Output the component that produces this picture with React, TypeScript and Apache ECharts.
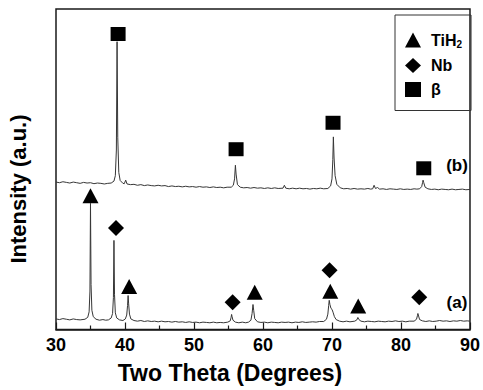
import React, { useEffect, useRef } from "react";
import * as echarts from "echarts";

// 2θ ticks
const xTicks = [30, 40, 50, 60, 70, 80, 90];

// Pattern (a) [2θ, intensity a.u.]
const patternA: number[][] = [
  [30, 3.3], [30.5, 3.1], [31, 3.4], [31.5, 3.2], [32, 3.0], [32.5, 3.3], [33, 3.1], [33.5, 3.0],
  [34.2, 3.2], [34.6, 3.8], [34.8, 5.5], [34.92, 12], [35, 39.4], [35.08, 14], [35.2, 6], [35.4, 4], [35.8, 3.2],
  [36.3, 2.9], [36.8, 3.1], [37.2, 2.9], [37.6, 3.0],
  [38.0, 3.6], [38.2, 5.0], [38.32, 10], [38.4, 27.8], [38.48, 11], [38.6, 5.2], [38.8, 3.6], [39.2, 3.0],
  [39.7, 2.8], [40.05, 3.3], [40.25, 4.5], [40.37, 7.5], [40.45, 10.6], [40.53, 8], [40.65, 4.8], [40.85, 3.3], [41.3, 2.8],
  [41.8, 2.6], [42.3, 2.8], [42.8, 2.5], [43.3, 2.7], [43.8, 2.5], [44.3, 2.6], [44.8, 2.4], [45.3, 2.6],
  [45.8, 2.4], [46.3, 2.5], [46.8, 2.3], [47.3, 2.5], [47.8, 2.3], [48.3, 2.4], [48.8, 2.2], [49.3, 2.4],
  [49.8, 2.2], [50.3, 2.3], [50.8, 2.1], [51.3, 2.3], [51.8, 2.2], [52.3, 2.1], [52.8, 2.3], [53.3, 2.1],
  [53.8, 2.2], [54.3, 2.1],
  [54.9, 2.3], [55.25, 2.7], [55.38, 3.8], [55.45, 4.7], [55.52, 4.0], [55.65, 2.9], [56.0, 2.3],
  [56.5, 2.1], [57.0, 2.3], [57.5, 2.1],
  [57.9, 2.3], [58.25, 2.9], [58.42, 5.0], [58.55, 7.8], [58.65, 6.0], [58.8, 3.4], [59.2, 2.4],
  [59.7, 2.2], [60.2, 2.3], [60.7, 2.1], [61.2, 2.3], [61.7, 2.2], [62.2, 2.1], [62.7, 2.3], [63.2, 2.2],
  [63.7, 2.3], [64.2, 2.1], [64.7, 2.3], [65.2, 2.2], [65.7, 2.4], [66.2, 2.2], [66.7, 2.3], [67.2, 2.4],
  [67.7, 2.3], [68.2, 2.5],
  [68.8, 2.5], [69.2, 3.2], [69.4, 4.8], [69.52, 7.5], [69.6, 9.1], [69.7, 7.8], [69.85, 6.6], [70.0, 6.3],
  [70.15, 5.4], [70.35, 4.0], [70.6, 3.1], [71.1, 2.6],
  [71.6, 2.4], [72.1, 2.6], [72.6, 2.4],
  [73.3, 2.6], [73.6, 3.0], [73.75, 3.75], [73.9, 3.1], [74.2, 2.6],
  [74.7, 2.4], [75.2, 2.6], [75.7, 2.5], [76.2, 2.4], [76.7, 2.6], [77.2, 2.5], [77.7, 2.4], [78.2, 2.6],
  [78.7, 2.5], [79.2, 2.7], [79.7, 2.5], [80.2, 2.6], [80.7, 2.4], [81.2, 2.6],
  [81.9, 2.6], [82.25, 3.2], [82.38, 4.3], [82.45, 5.0], [82.55, 4.2], [82.7, 3.1], [83.1, 2.7],
  [83.6, 2.5], [84.1, 2.7], [84.6, 2.5], [85.1, 2.6], [85.6, 2.8], [86.1, 2.6], [86.6, 2.7], [87.1, 2.5],
  [87.6, 2.7], [88.1, 2.6], [88.6, 2.8], [89.1, 2.6], [89.6, 2.7], [90, 2.6],
];

// Pattern (b) [2θ, intensity a.u.]
const patternB: number[][] = [
  [30, 46.0], [30.5, 45.8], [31, 46.1], [31.5, 45.9], [32, 45.7], [32.5, 46.0], [33, 45.8], [33.5, 45.6],
  [34, 45.9], [34.5, 45.7], [35, 45.8], [35.5, 45.5], [36, 45.7], [36.5, 45.6], [37, 45.4], [37.5, 45.6],
  [38.0, 45.7], [38.4, 46.3], [38.6, 48], [38.75, 56], [38.85, 89.8], [38.95, 60], [39.1, 49], [39.3, 46.5],
  [39.7, 45.6], [39.9, 45.5], [40.1, 46.6], [40.3, 45.4],
  [40.8, 45.2], [41.3, 45.3], [41.8, 45.0], [42.3, 45.2], [42.8, 44.9], [43.3, 45.1], [43.8, 44.9], [44.3, 44.8],
  [44.8, 45.0], [45.3, 44.8], [45.8, 44.9], [46.3, 44.6], [46.8, 44.8], [47.3, 44.6], [47.8, 44.7], [48.3, 44.5],
  [48.8, 44.7], [49.3, 44.5], [49.8, 44.6], [50.3, 44.4], [50.8, 44.6], [51.3, 44.4], [51.8, 44.5], [52.3, 44.3],
  [52.8, 44.5], [53.3, 44.3], [53.8, 44.4], [54.3, 44.2], [54.8, 44.4],
  [55.4, 44.4], [55.7, 45.0], [55.88, 47], [56.0, 51.25], [56.1, 48.5], [56.3, 45.2], [56.7, 44.4],
  [57.2, 44.2], [57.7, 44.3], [58.2, 44.1], [58.7, 44.3], [59.2, 44.1], [59.7, 44.2], [60.2, 44.0], [60.7, 44.2],
  [61.2, 44.0], [61.7, 44.2], [62.2, 44.0], [62.9, 44.1], [63.1, 45.0], [63.3, 44.1],
  [63.8, 43.9], [64.3, 44.1], [64.8, 43.9], [65.3, 44.1], [65.8, 43.9], [66.3, 44.0], [66.8, 43.8], [67.3, 44.0],
  [67.8, 43.9], [68.3, 44.1], [68.8, 43.9],
  [69.4, 44.0], [69.8, 44.8], [70.0, 47], [70.12, 53], [70.2, 60.1], [70.3, 53.5], [70.45, 48], [70.7, 45.3], [71.2, 44.2],
  [71.7, 43.9], [72.2, 44.0], [72.7, 43.8], [73.2, 44.0], [73.7, 43.8], [74.2, 43.9], [74.7, 43.8], [75.2, 44.0],
  [75.6, 43.8], [75.9, 43.9], [76.1, 45.0], [76.3, 44.0], [76.6, 44.3], [76.9, 43.8],
  [77.4, 43.9], [77.9, 43.7], [78.4, 43.9], [78.9, 43.8], [79.4, 43.7], [79.9, 43.9], [80.4, 43.7], [80.9, 43.8],
  [81.4, 43.7], [81.9, 43.9], [82.3, 43.8],
  [82.7, 43.9], [83.0, 44.6], [83.12, 45.8], [83.2, 46.6], [83.3, 45.8], [83.5, 44.4], [83.9, 43.9],
  [84.4, 43.7], [84.9, 43.8], [85.4, 43.6], [85.9, 43.8], [86.4, 43.7], [86.9, 43.6], [87.4, 43.8], [87.9, 43.6],
  [88.4, 43.7], [88.9, 43.8], [89.4, 43.6], [90, 43.7],
];

// Phase markers [2θ, marker height a.u.]
const tih2Marks: number[][] = [[35.0, 41.7], [40.6, 13.4], [58.8, 11.6], [69.75, 11.9], [73.8, 7.3]];
const nbMarks: number[][] = [[38.7, 31.7], [55.6, 8.5], [69.65, 18.5], [82.65, 10.1]];
const betaMarks: number[][] = [[39.0, 92.2], [56.1, 56.25], [70.15, 64.5], [83.3, 50.3]];

const phaseNames = ["TiH2", "Nb", "β"];
const sampleLabels = ["(b)", "(a)"];

const FONT = "'Liberation Sans', Arial, Helvetica, sans-serif";

export default function App() {
  const ref = useRef<HTMLDivElement>(null);
  useEffect(() => {
    if (!ref.current) return;
    const chart = echarts.init(ref.current, undefined, { renderer: "svg" });
    const lineStyle = { color: "#363636", width: 1 };
    const markStyle = { color: "#000", opacity: 1 };
    chart.setOption({
      animation: false,
      backgroundColor: "#ffffff",
      grid: {
        left: 56,
        right: 9,
        top: 9,
        bottom: 60.5,
        show: true,
        borderColor: "#1a1a1a",
        borderWidth: 1.5,
        backgroundColor: "transparent",
      },
      legend: {
        orient: "vertical",
        left: 395,
        top: 15,
        itemWidth: 16,
        itemHeight: 15,
        itemGap: 8,
        padding: [17, 9, 13, 10],
        borderColor: "#333",
        borderWidth: 1,
        selectedMode: false,
        data: [
          { name: phaseNames[0], icon: "triangle" },
          { name: phaseNames[1], icon: "diamond" },
          { name: phaseNames[2], icon: "rect" },
        ],
        formatter: (n: string) => (n === "TiH2" ? "{b|TiH}{s|2}" : "{b|" + n + "}"),
        textStyle: {
          padding: [0, 0, 0, 5],
          rich: {
            b: { fontSize: 16, fontWeight: "bold", fontFamily: FONT, color: "#000" },
            s: { fontSize: 10, fontWeight: "bold", fontFamily: FONT, color: "#000", verticalAlign: "bottom", padding: [9, 0, 0, 0] },
          },
        },
      },
      xAxis: {
        type: "value",
        min: xTicks[0],
        max: xTicks[xTicks.length - 1],
        interval: 10,
        axisLine: { show: true, lineStyle: { color: "#1a1a1a", width: 1.5 } },
        axisTick: { show: true, inside: true, length: 7, lineStyle: { color: "#1a1a1a", width: 1.2 } },
        minorTick: { show: true, splitNumber: 2, length: 4, lineStyle: { color: "#1a1a1a", width: 1.2 } },
        splitLine: { show: false },
        axisLabel: { fontSize: 18, fontWeight: "bold", fontFamily: FONT, color: "#000", margin: 6 },
      },
      yAxis: {
        type: "value",
        min: 0,
        max: 100,
        axisLine: { show: false },
        axisTick: { show: false },
        axisLabel: { show: false },
        splitLine: { show: false },
      },
      graphic: [
        {
          type: "text",
          x: 18,
          y: 189,
          rotation: Math.PI / 2,
          style: {
            text: "Intensity (a.u.)",
            font: "bold 22px " + FONT,
            fill: "#000",
            textAlign: "center",
            textVerticalAlign: "middle",
          },
        },
        {
          type: "text",
          x: 230,
          y: 373,
          style: {
            text: "Two Theta (Degrees)",
            font: "bold 23px " + FONT,
            fill: "#000",
            textAlign: "center",
            textVerticalAlign: "middle",
          },
        },
        {
          type: "text",
          x: 457,
          y: 165,
          style: { text: sampleLabels[0], font: "bold 17px " + FONT, fill: "#000", textAlign: "center", textVerticalAlign: "middle" },
        },
        {
          type: "text",
          x: 457,
          y: 302,
          style: { text: sampleLabels[1], font: "bold 17px " + FONT, fill: "#000", textAlign: "center", textVerticalAlign: "middle" },
        },
      ],
      series: [
        { type: "line", name: "(a)", data: patternA, showSymbol: false, lineStyle, silent: true },
        { type: "line", name: "(b)", data: patternB, showSymbol: false, lineStyle, silent: true },
        { type: "scatter", name: phaseNames[0], data: tih2Marks, symbol: "triangle", symbolSize: [16, 15], itemStyle: markStyle, silent: true },
        { type: "scatter", name: phaseNames[1], data: nbMarks, symbol: "diamond", symbolSize: [16, 16], itemStyle: markStyle, silent: true },
        { type: "scatter", name: phaseNames[2], data: betaMarks, symbol: "rect", symbolSize: [15, 14], itemStyle: markStyle, silent: true },
      ],
    });
    return () => chart.dispose();
  }, []);
  return <div ref={ref} style={{ width: 483, height: 390, position: "absolute", left: 0, top: 0 }} />;
}
